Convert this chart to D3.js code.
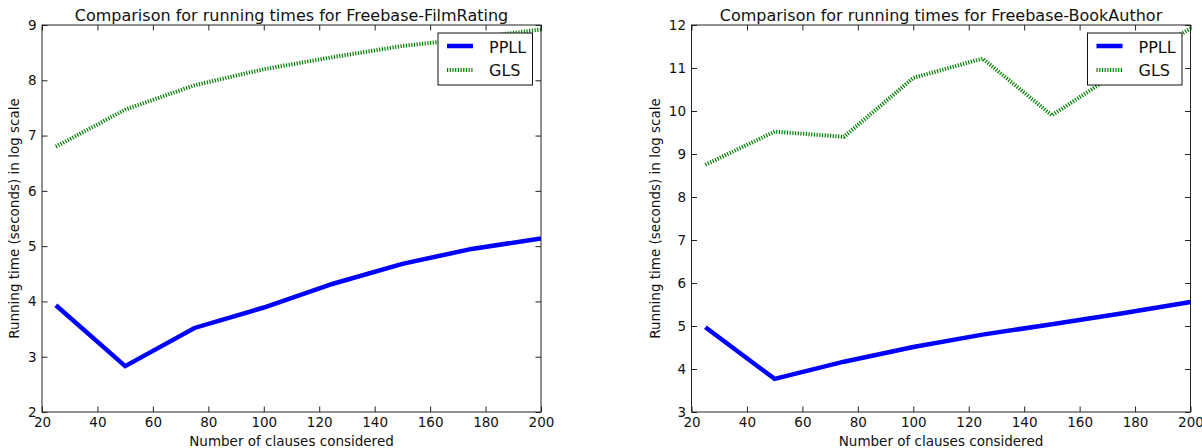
<!DOCTYPE html>
<html>
<head>
<meta charset="utf-8">
<script src="https://cdn.jsdelivr.net/npm/d3@7"></script>
<style>
  body { margin: 0; background: #fff; }
  svg text { font-family: "DejaVu Sans", sans-serif; fill: #111; }
</style>
</head>
<body>
<svg class="chart" width="1202" height="448"></svg>
<script>
// clause counts on the x axis
let clauses = [25, 50, 75, 100, 125, 150, 175, 200];
let xTicks = [20, 40, 60, 80, 100, 120, 140, 160, 180, 200];

// Freebase-FilmRating
let filmPPLL = [3.93, 2.83, 3.52, 3.89, 4.32, 4.68, 4.95, 5.14];
let filmGLS = [6.80, 7.47, 7.91, 8.20, 8.42, 8.62, 8.76, 8.92];
let filmTicks = [2, 3, 4, 5, 6, 7, 8, 9];

// Freebase-BookAuthor
let bookPPLL = [4.97, 3.77, 4.17, 4.51, 4.80, 5.04, 5.29, 5.56];
let bookGLS = [8.75, 9.52, 9.40, 10.77, 11.22, 9.90, 10.95, 11.92];
let bookTicks = [3, 4, 5, 6, 7, 8, 9, 10, 11, 12];

let svg = d3.select("svg.chart");
let plotW = 499, plotH = 387, tickLen = 5.5;

function drawPanel(left, title, ppll, gls, yTicks, id) {
    let g = svg.append("g")
        .attr("transform", "translate(" + left + ",25)");

    let xScale = d3.scaleLinear()
        .domain([20, 200])
        .range([0, plotW]);
    let yScale = d3.scaleLinear()
        .domain([yTicks[0], yTicks[yTicks.length - 1]])
        .range([plotH, 0]);

    // axes with inward ticks on all four sides
    let bottom = g.append("g")
        .attr("transform", "translate(0," + plotH + ")")
        .call(d3.axisBottom(xScale).tickValues(xTicks).tickSizeInner(-tickLen).tickSizeOuter(0)
            .tickPadding(5).tickFormat(d3.format("d")));
    let top = g.append("g")
        .call(d3.axisTop(xScale).tickValues(xTicks).tickSizeInner(-tickLen).tickSizeOuter(0).tickFormat(""));
    let leftAx = g.append("g")
        .call(d3.axisLeft(yScale).tickValues(yTicks).tickSizeInner(-tickLen).tickSizeOuter(0)
            .tickPadding(5.5).tickFormat(d3.format("d")));
    let rightAx = g.append("g")
        .attr("transform", "translate(" + plotW + ",0)")
        .call(d3.axisRight(yScale).tickValues(yTicks).tickSizeInner(-tickLen).tickSizeOuter(0).tickFormat(""));

    [bottom, top, leftAx, rightAx].forEach(a => {
        a.select(".domain").remove();
        a.selectAll("line").attr("stroke", "#222").attr("stroke-width", 1);
        a.selectAll("text")
            .attr("font-size", "13.5px")
            .attr("font-family", "DejaVu Sans, sans-serif")
            .attr("fill", "#111");
    });

    // clip
    g.append("clipPath")
        .attr("id", id)
        .append("rect")
        .attr("width", plotW)
        .attr("height", plotH);

    let line = d3.line()
        .x((d, i) => xScale(clauses[i]))
        .y(d => yScale(d));

    g.append("path")
        .datum(gls)
        .attr("clip-path", "url(#" + id + ")")
        .attr("fill", "none")
        .attr("stroke", "#008000")
        .attr("stroke-width", 4)
        .attr("stroke-dasharray", "1.2,1.5")
        .attr("d", line);

    g.append("path")
        .datum(ppll)
        .attr("clip-path", "url(#" + id + ")")
        .attr("fill", "none")
        .attr("stroke", "#0000ff")
        .attr("stroke-width", 4.5)
        .attr("stroke-linejoin", "miter")
        .attr("d", line);

    // frame
    g.append("rect")
        .attr("width", plotW)
        .attr("height", plotH)
        .attr("fill", "none")
        .attr("stroke", "#222")
        .attr("stroke-width", 1);

    // title
    g.append("text")
        .attr("x", plotW / 2)
        .attr("y", -4)
        .attr("text-anchor", "middle")
        .attr("font-size", "16px")
        .text(title);
    // x-axis label
    g.append("text")
        .attr("x", plotW / 2)
        .attr("y", plotH + 34)
        .attr("text-anchor", "middle")
        .attr("font-size", "13.5px")
        .text("Number of clauses considered");
    // y-axis label
    let labelX = yTicks[yTicks.length - 1] >= 10 ? -32 : -23;
    g.append("text")
        .attr("transform", "translate(" + labelX + "," + (plotH / 2) + ") rotate(-90)")
        .attr("text-anchor", "middle")
        .attr("font-size", "13.5px")
        .text("Running time (seconds) in log scale");

    // legend
    let leg = g.append("g")
        .attr("transform", "translate(" + (plotW - 103) + ",8)");
    leg.append("rect")
        .attr("width", 94.5)
        .attr("height", 52)
        .attr("fill", "#fff")
        .attr("stroke", "#111")
        .attr("stroke-width", 1);
    leg.append("line")
        .attr("x1", 9).attr("x2", 35)
        .attr("y1", 13).attr("y2", 13)
        .attr("stroke", "#0000ff")
        .attr("stroke-width", 4.5);
    leg.append("line")
        .attr("x1", 9).attr("x2", 35)
        .attr("y1", 37).attr("y2", 37)
        .attr("stroke", "#008000")
        .attr("stroke-width", 4)
        .attr("stroke-dasharray", "1.2,1.5");
    leg.append("text")
        .attr("x", 51).attr("y", 20)
        .attr("font-size", "16px")
        .text("PPLL");
    leg.append("text")
        .attr("x", 51).attr("y", 43)
        .attr("font-size", "16px")
        .text("GLS");
}

drawPanel(42, "Comparison for running times for Freebase-FilmRating", filmPPLL, filmGLS, filmTicks, "clipFilm");
drawPanel(691.5, "Comparison for running times for Freebase-BookAuthor", bookPPLL, bookGLS, bookTicks, "clipBook");
</script>
</body>
</html>
